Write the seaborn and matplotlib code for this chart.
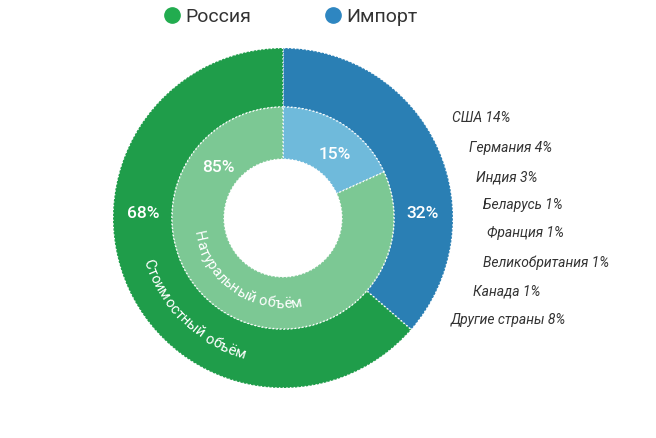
import numpy as np
import pandas as pd
import matplotlib
matplotlib.use("Agg")
import matplotlib.pyplot as plt
from matplotlib.lines import Line2D
import seaborn as sns

#%% data
groups = ['Импорт', 'Россия']
value_share = [32, 68]      # стоимостный объём, % (подписи)
volume_share = [15, 85]     # натуральный объём, % (подписи)
# arc sizes as they are drawn in the source picture
value_arc = [36.4, 63.6]
volume_arc = [18.2, 81.8]
countries = ['США', 'Германия', 'Индия', 'Беларусь', 'Франция',
             'Великобритания', 'Канада', 'Другие страны']
country_share = [14, 4, 3, 1, 1, 1, 1, 8]

#%% style
sns.set_theme(style='white')
plt.rcParams['font.family'] = ['Roboto', 'DejaVu Sans']

dark = {'Россия': '#1f9d4a', 'Импорт': '#2a7fb4'}
light = {'Россия': '#7cc894', 'Импорт': '#6fbadb'}
legend_col = {'Россия': '#22ac4f', 'Импорт': '#2e86c1'}

W, H = 656, 438
cx, cy = 283, 220
R_out, R_mid, R_in = 170, 111, 59

fig = plt.figure(figsize=(W / 100, H / 100), dpi=100)
ax = fig.add_axes([0, 0, 1, 1])

edge = dict(edgecolor='white', linewidth=1, linestyle=':')
ax.pie(value_arc, radius=R_out, center=(cx, cy), startangle=90, counterclock=False,
       colors=[dark[g] for g in groups], wedgeprops=dict(width=R_out - R_mid, **edge))
ax.pie(volume_arc, radius=R_mid, center=(cx, cy), startangle=90, counterclock=False,
       colors=[light[g] for g in groups], wedgeprops=dict(width=R_mid - R_in, **edge))
ax.set_xlim(0, W)
ax.set_ylim(0, H)
ax.set_aspect('equal')
ax.axis('off')

#%% percent labels (angle, radius) per wedge
def polar(a, r):
    return cx + r * np.cos(np.radians(a)), cy + r * np.sin(np.radians(a))

for val, a in zip(value_share, [2, 178]):
    x, y = polar(a, 140)
    ax.text(x, y, f'{val}%', color='white', fontsize=12.5, fontweight='medium',
            ha='center', va='center')
for val, a in zip(volume_share, [51, 142]):
    x, y = polar(a, 82)
    ax.text(x, y, f'{val}%', color='white', fontsize=12.5, fontweight='medium',
            ha='center', va='center')

#%% curved ring captions
renderer = fig.canvas.get_renderer()

def text_width(s, fs):
    t = ax.text(0, 0, s, fontsize=fs)
    bw = t.get_window_extent(renderer).width
    t.remove()
    return bw

def curved_text(text, r, mid_angle, fs=10.5, color='white'):
    base = text_width('nn', fs)
    # left edge of every char, kerning included
    edges = [text_width('n' + text[:i] + 'n', fs) - base for i in range(len(text) + 1)]
    total = edges[-1]
    start = mid_angle - np.degrees(total / 2 / r)
    for i, ch in enumerate(text):
        if ch == ' ':
            continue
        mid = (edges[i] + edges[i + 1]) / 2
        a = start + np.degrees(mid / r)
        x, y = polar(a, r)
        ax.text(x, y, ch, fontsize=fs, color=color, rotation=a + 90,
                rotation_mode='anchor', ha='center', va='center')

curved_text('Стоимостный объём', 142, 226)
curved_text('Натуральный объём', 86, 236)

#%% import breakdown
label_x = [452, 469, 476, 483, 487, 483, 473, 451]
label_y = [118, 148, 177, 205, 233, 263, 292, 320]
for c, s, x, y in zip(countries, country_share, label_x, label_y):
    ax.text(x, H - y, f'{c} {s}%', fontsize=10, style='italic', color='#333333',
            ha='left', va='center')

#%% legend
handles = [Line2D([], [], marker='o', ls='', markersize=11, color=legend_col[g], label=g)
           for g in ['Россия', 'Импорт']]
ax.legend(handles=handles, ncol=2, frameon=False, loc='center',
          bbox_to_anchor=(291 / W, 1 - 17 / H), fontsize=14, handletextpad=0.3,
          columnspacing=3.8, labelcolor='#333333', handlelength=0.8)

fig.savefig('out.png', dpi=100)
